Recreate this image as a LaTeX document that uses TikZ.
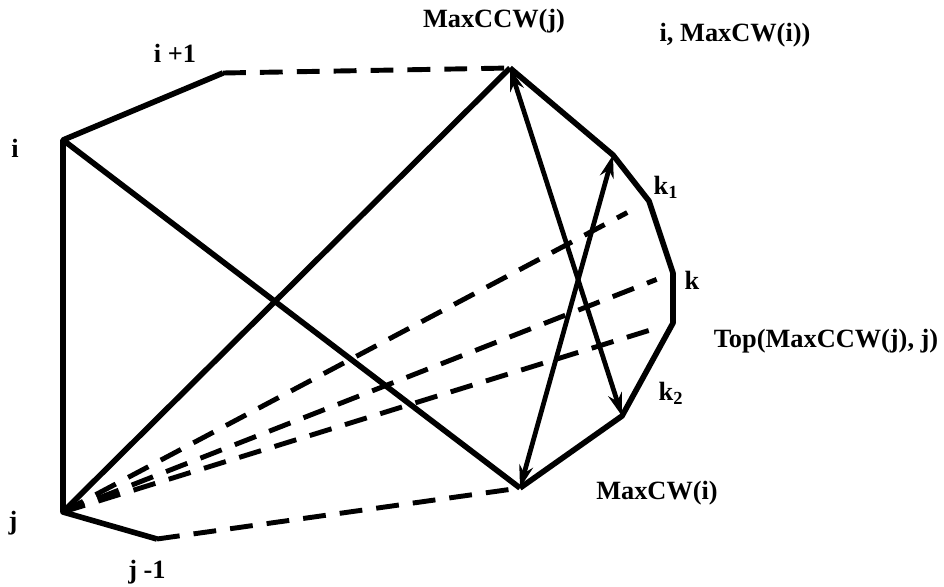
\documentclass[tikz,border=0pt]{standalone}
\usepackage{fontspec}
\setmainfont{Liberation Serif}
\usetikzlibrary{arrows.meta}

\begin{document}
\begin{tikzpicture}[x=0.02cm, y=-0.02cm, >=Stealth,
  edge/.style={line width=3.2pt, line join=round},
  hidden/.style={line width=2.8pt, dash pattern=on 13pt off 8pt},
  sweep/.style={line width=2.7pt, {Stealth[length=13pt, width=8pt]}-{Stealth[length=13pt, width=8pt]}},
  lbl/.style={font=\fontsize{15}{18}\selectfont\bfseries, inner sep=0pt}]

\useasboundingbox (0,0) rectangle (944,586);

% Polygon vertices (pixel grid, y down)
\coordinate (i) at (63,140);
\coordinate (ip) at (223,73);
\coordinate (ccw) at (510,68);
\coordinate (a) at (613,155);
\coordinate (kt) at (649,201);
\coordinate (k) at (673,273);
\coordinate (top) at (673,323);
\coordinate (kb) at (622,416);
\coordinate (cw) at (520,488);
\coordinate (jm) at (157,539);
\coordinate (j) at (63,512);

% Solid hull edges
\draw[edge] (ip) -- (i) -- (j) -- (jm);
\draw[edge] (ccw) -- (a) -- (kt) -- (k) -- (top) -- (kb) -- (cw);
\draw[edge] (i) -- (cw);
\draw[edge] (j) -- (ccw);

% Hidden parts of the hull
\draw[hidden] (ip) -- (ccw);
\draw[hidden] (jm) -- (cw);

% Candidate chords from j
\draw[hidden, shorten >=14] (j) -- (kt);
\draw[hidden, shorten >=10] (j) -- (k);
\draw[hidden, shorten >=8] (j) -- (top);

% Sweeping arrows
\draw[sweep] (ccw) -- (kb);
\draw[sweep] (cw) -- (a);

% Labels
\node[lbl] (li) at (15,148) {i};
\node[lbl] (lip) at (175,53) {i +1};
\node[lbl] (lccw) at (494,21) {MaxCCW(j)};
\node[lbl] (ltopi) at (735,35) {i, MaxCW(i))};
\node[lbl] (lkt) at (666,187) {k\textsubscript{1}};
\node[lbl] (lk) at (692,280) {k};
\node[lbl] (ltopj) at (826,341) {Top(MaxCCW(j), j)};
\node[lbl] (lkb) at (671,393) {k\textsubscript{2}};
\node[lbl] (lcw) at (657,493) {MaxCW(i)};
\node[lbl] (lj) at (13,523) {j};
\node[lbl] (ljm) at (147,572) {j -1};

\end{tikzpicture}
\end{document}
